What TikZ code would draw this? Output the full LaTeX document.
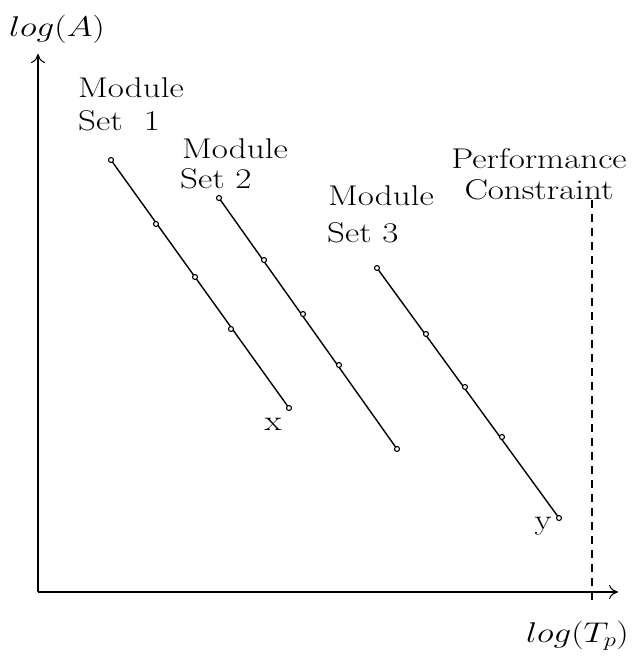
\RequirePackage{fix-cm}
\documentclass[tikz,border=0pt]{standalone}
\usetikzlibrary{arrows.meta}
% wide, slightly squat lettering for all labels
\newcommand{\widetxt}[1]{\scalebox{1.13}[0.92]{#1}}
\begin{document}
\begin{tikzpicture}[x=1pt,y=-1pt,
  axis/.style={line width=1.3pt,-{Computer Modern Rightarrow[length=9pt,width=14pt,line width=1pt]}},
  trend/.style={line width=1.4pt},
  pt/.style={circle,draw,line width=1.1pt,fill=white,inner sep=0pt,minimum size=5pt},
  lbl/.style={font=\fontsize{31}{34}\selectfont,inner sep=0pt},
  limit/.style={line width=1.2pt,dash pattern=on 8pt off 6pt}]
\useasboundingbox (0,0) rectangle (635,656);
% axes
\coordinate (O) at (38,592);
\coordinate (ytop) at (38,54);
\coordinate (xend) at (618,592);
\draw[axis] (O) -- (ytop);
\draw[axis] (O) -- (xend);
\node[lbl,anchor=base west] (ylab) at (9,36) {\widetxt{$log(A)$}};
\node[lbl,anchor=base east] (xlab) at (629,642) {\widetxt{$log(T_p)$}};
% performance constraint
\coordinate (k1) at (592,200);
\coordinate (k2) at (592,604);
\draw[limit] (k1) -- (k2);
\node[lbl,anchor=base] (pc1) at (539,168) {\widetxt{Performance}};
\node[lbl,anchor=base] (pc2) at (539,199) {\widetxt{Constraint}};
% module set 1
\foreach \n/\x/\y in {a1/111/160,a2/156/224,a3/195/277,a4/231/329,a5/289/408}
  \coordinate (\n) at (\x,\y);
\draw[trend] (a1) -- (a5);
\foreach \n in {a1,a2,a3,a4,a5} \node[pt] at (\n) {};
% module set 2
\foreach \n/\x/\y in {b1/219/198,b2/264/260,b3/303/314,b4/339/365,b5/397/449}
  \coordinate (\n) at (\x,\y);
\draw[trend] (b1) -- (b5);
\foreach \n in {b1,b2,b3,b4,b5} \node[pt] at (\n) {};
% module set 3
\foreach \n/\x/\y in {c1/377/268,c2/426/334,c3/465/387,c4/502/437,c5/559/518}
  \coordinate (\n) at (\x,\y);
\draw[trend] (c1) -- (c5);
\foreach \n in {c1,c2,c3,c4,c5} \node[pt] at (\n) {};
% set labels
\node[lbl,anchor=base west] (m1) at (78,97) {\widetxt{Module}};
\node[lbl,anchor=base west] (s1) at (78,130) {\widetxt{Set~~1}};
\node[lbl,anchor=base west] (m2) at (182,158) {\widetxt{Module}};
\node[lbl,anchor=base west] (s2) at (180,188) {\widetxt{Set 2}};
\node[lbl,anchor=base west] (m3) at (328,205) {\widetxt{Module}};
\node[lbl,anchor=base west] (s3) at (327,242) {\widetxt{Set 3}};
\node[lbl,anchor=base] (xl) at (273,430) {\widetxt{x}};
\node[lbl,anchor=base] (yl) at (543,529) {\widetxt{y}};
\end{tikzpicture}
\end{document}
